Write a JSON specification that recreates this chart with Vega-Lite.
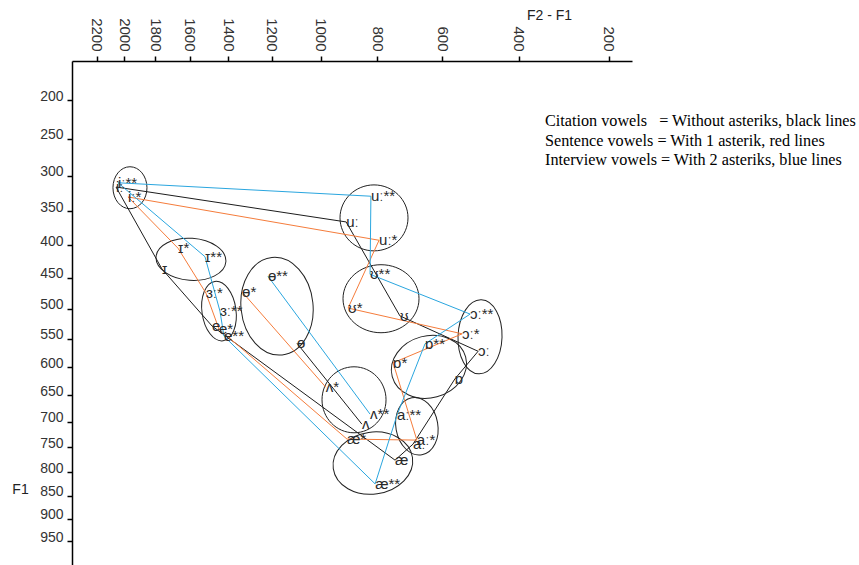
{
  "$schema": "https://vega.github.io/schema/vega-lite/v6.json",
  "width": 560,
  "height": 504,
  "autosize": "none",
  "padding": {"left": 72, "top": 61, "right": 227, "bottom": 0},
  "background": "white",
  "config": {"view": {"stroke": null}, "font": "Liberation Sans"},
  "title": {
    "text": [
      "Citation vowels\u00a0\u00a0 = Without asteriks, black lines",
      "Sentence vowels = With 1 asterik, red lines",
      "Interview vowels = With 2 asteriks, blue lines"
    ],
    "orient": "bottom",
    "anchor": "start",
    "frame": "group",
    "offset": 0,
    "dx": 473,
    "dy": -452,
    "baseline": "top",
    "font": "Liberation Serif",
    "fontSize": 16.2,
    "fontWeight": "normal",
    "color": "#000000",
    "lineHeight": 19.5
  },
  "datasets": {
    "vowels": [
      {"vowel": "iː", "cond": "citation", "f2": 2060, "f1": 316},
      {"vowel": "ɪ", "cond": "citation", "f2": 1761, "f1": 437},
      {"vowel": "e", "cond": "citation", "f2": 1484, "f1": 529},
      {"vowel": "æ", "cond": "citation", "f2": 745, "f1": 776},
      {"vowel": "aː", "cond": "citation", "f2": 690, "f1": 744},
      {"vowel": "ɒ", "cond": "citation", "f2": 567, "f1": 621},
      {"vowel": "ɔː", "cond": "citation", "f2": 506, "f1": 572},
      {"vowel": "ʊ", "cond": "citation", "f2": 730, "f1": 512},
      {"vowel": "uː", "cond": "citation", "f2": 910, "f1": 366},
      {"vowel": "ɵ", "cond": "citation", "f2": 1097, "f1": 558},
      {"vowel": "ʌ", "cond": "citation", "f2": 854, "f1": 705},
      {"vowel": "iː*", "cond": "sentence", "f2": 1977, "f1": 330},
      {"vowel": "ɪ*", "cond": "sentence", "f2": 1668, "f1": 405},
      {"vowel": "ɜː*", "cond": "sentence", "f2": 1516, "f1": 475},
      {"vowel": "e*", "cond": "sentence", "f2": 1448, "f1": 534},
      {"vowel": "æ*", "cond": "sentence", "f2": 907, "f1": 734},
      {"vowel": "aː*", "cond": "sentence", "f2": 678, "f1": 736},
      {"vowel": "ɒ*", "cond": "sentence", "f2": 751, "f1": 592},
      {"vowel": "ɔː*", "cond": "sentence", "f2": 548, "f1": 542},
      {"vowel": "ʊ*", "cond": "sentence", "f2": 903, "f1": 499},
      {"vowel": "uː*", "cond": "sentence", "f2": 794, "f1": 393},
      {"vowel": "ɵ*", "cond": "sentence", "f2": 1336, "f1": 473},
      {"vowel": "ʌ*", "cond": "sentence", "f2": 982, "f1": 636},
      {"vowel": "iː**", "cond": "interview", "f2": 2046, "f1": 310},
      {"vowel": "ɪ**", "cond": "interview", "f2": 1521, "f1": 418},
      {"vowel": "ɜː**", "cond": "interview", "f2": 1443, "f1": 504},
      {"vowel": "e**", "cond": "interview", "f2": 1422, "f1": 546},
      {"vowel": "æ**", "cond": "interview", "f2": 807, "f1": 825},
      {"vowel": "aː**", "cond": "interview", "f2": 739, "f1": 688},
      {"vowel": "ɒ**", "cond": "interview", "f2": 653, "f1": 559},
      {"vowel": "ɔː**", "cond": "interview", "f2": 527, "f1": 509},
      {"vowel": "ʊ**", "cond": "interview", "f2": 825, "f1": 445},
      {"vowel": "uː**", "cond": "interview", "f2": 822, "f1": 329},
      {"vowel": "ɵ**", "cond": "interview", "f2": 1217, "f1": 448},
      {"vowel": "ʌ**", "cond": "interview", "f2": 825, "f1": 686}
    ],
    "paths": [
      {"path": "c1", "cond": "citation", "step": 0, "vowel": "uː"},
      {"path": "c1", "cond": "citation", "step": 1, "vowel": "iː"},
      {"path": "c1", "cond": "citation", "step": 2, "vowel": "ɪ"},
      {"path": "c1", "cond": "citation", "step": 3, "vowel": "e"},
      {"path": "c1", "cond": "citation", "step": 4, "vowel": "æ"},
      {"path": "c1", "cond": "citation", "step": 5, "vowel": "aː"},
      {"path": "c1", "cond": "citation", "step": 6, "vowel": "ɒ"},
      {"path": "c1", "cond": "citation", "step": 7, "vowel": "ɔː"},
      {"path": "c1", "cond": "citation", "step": 8, "vowel": "ʊ"},
      {"path": "c1", "cond": "citation", "step": 9, "vowel": "uː"},
      {"path": "c2", "cond": "citation", "step": 0, "vowel": "ɵ"},
      {"path": "c2", "cond": "citation", "step": 1, "vowel": "ʌ"},
      {"path": "s1", "cond": "sentence", "step": 0, "vowel": "uː*"},
      {"path": "s1", "cond": "sentence", "step": 1, "vowel": "iː*"},
      {"path": "s1", "cond": "sentence", "step": 2, "vowel": "ɪ*"},
      {"path": "s1", "cond": "sentence", "step": 3, "vowel": "ɜː*"},
      {"path": "s1", "cond": "sentence", "step": 4, "vowel": "e*"},
      {"path": "s1", "cond": "sentence", "step": 5, "vowel": "æ*"},
      {"path": "s1", "cond": "sentence", "step": 6, "vowel": "aː*"},
      {"path": "s1", "cond": "sentence", "step": 7, "vowel": "ɒ*"},
      {"path": "s1", "cond": "sentence", "step": 8, "vowel": "ɔː*"},
      {"path": "s1", "cond": "sentence", "step": 9, "vowel": "ʊ*"},
      {"path": "s1", "cond": "sentence", "step": 10, "vowel": "uː*"},
      {"path": "s2", "cond": "sentence", "step": 0, "vowel": "ɵ*"},
      {"path": "s2", "cond": "sentence", "step": 1, "vowel": "ʌ*"},
      {"path": "b1", "cond": "interview", "step": 0, "vowel": "uː**"},
      {"path": "b1", "cond": "interview", "step": 1, "vowel": "iː**"},
      {"path": "b1", "cond": "interview", "step": 2, "vowel": "ɪ**"},
      {"path": "b1", "cond": "interview", "step": 3, "vowel": "ɜː**"},
      {"path": "b1", "cond": "interview", "step": 4, "vowel": "e**"},
      {"path": "b1", "cond": "interview", "step": 5, "vowel": "æ**"},
      {"path": "b1", "cond": "interview", "step": 6, "vowel": "aː**"},
      {"path": "b1", "cond": "interview", "step": 7, "vowel": "ɒ**"},
      {"path": "b1", "cond": "interview", "step": 8, "vowel": "ɔː**"},
      {"path": "b1", "cond": "interview", "step": 9, "vowel": "ʊ**"},
      {"path": "b1", "cond": "interview", "step": 10, "vowel": "uː**"},
      {"path": "b2", "cond": "interview", "step": 0, "vowel": "ɵ**"},
      {"path": "b2", "cond": "interview", "step": 1, "vowel": "ʌ**"}
    ],
    "ellipses": [
      {"group": "iː", "f2": 1964, "f1": 317},
      {"group": "ɪ", "f2": 1594, "f1": 422},
      {"group": "ɜː", "f2": 1448, "f1": 504},
      {"group": "ɵ", "f2": 1178, "f1": 496},
      {"group": "uː", "f2": 811, "f1": 360},
      {"group": "ʊ", "f2": 788, "f1": 484},
      {"group": "ɔː", "f2": 501, "f1": 547},
      {"group": "ɒ", "f2": 641, "f1": 599},
      {"group": "ʌ", "f2": 882, "f1": 659},
      {"group": "aː", "f2": 678, "f1": 709},
      {"group": "æ", "f2": 815, "f1": 782}
    ]
  },
  "encoding": {
    "x": {
      "field": "f2",
      "type": "quantitative",
      "scale": {
        "type": "linear",
        "domain": [154, 200, 400, 600, 800, 1000, 1200, 1400, 1600, 1800, 2000, 2200, 2392],
        "range": [560, 536.8, 446.5, 370.3, 305.1, 248.8, 199.6, 156.2, 117.8, 83.3, 52.4, 24.5, 0],
        "nice": false,
        "zero": false
      },
      "axis": {
        "orient": "top",
        "values": [2200, 2000, 1800, 1600, 1400, 1200, 1000, 800, 600, 400, 200],
        "format": "d",
        "title": "F2 - F1",
        "titleX": 477,
        "titleY": -46,
        "titleAngle": 0,
        "titleAlign": "center",
        "titleBaseline": "middle",
        "titleFont": "Liberation Sans",
        "titleFontSize": 14,
        "titleFontWeight": "normal",
        "titleColor": "#222222",
        "labelAngle": 90,
        "labelAlign": "right",
        "labelBaseline": "middle",
        "labelFont": "Liberation Sans",
        "labelFontSize": 15,
        "labelColor": "#333333",
        "labelPadding": 5,
        "labelFlush": false,
        "labelOverlap": false,
        "grid": false,
        "domainColor": "#000000",
        "domainWidth": 1.5,
        "tickColor": "#000000",
        "tickWidth": 1.5,
        "tickSize": 5
      }
    },
    "y": {
      "field": "f1",
      "type": "quantitative",
      "scale": {
        "type": "linear",
        "domain": [152, 200, 250, 300, 350, 400, 450, 500, 550, 600, 650, 700, 750, 800, 850, 900, 950, 1006],
        "range": [0, 39, 77.8, 114.7, 150.1, 184, 216.5, 247.7, 277.6, 306.4, 334, 360.6, 386.3, 411, 434.8, 457.8, 480, 504],
        "nice": false,
        "zero": false
      },
      "axis": {
        "orient": "left",
        "values": [200, 250, 300, 350, 400, 450, 500, 550, 600, 650, 700, 750, 800, 850, 900, 950],
        "format": "d",
        "title": "F1",
        "titleX": -52,
        "titleY": 428,
        "titleAngle": 0,
        "titleAlign": "center",
        "titleBaseline": "middle",
        "titleFont": "Liberation Sans",
        "titleFontSize": 14,
        "titleFontWeight": "normal",
        "titleColor": "#222222",
        "labelAlign": "right",
        "labelBaseline": "alphabetic",
        "labelFont": "Liberation Sans",
        "labelFontSize": 14,
        "labelColor": "#333333",
        "labelPadding": 4,
        "labelFlush": false,
        "labelOverlap": false,
        "grid": false,
        "domainColor": "#000000",
        "domainWidth": 1.5,
        "tickColor": "#000000",
        "tickWidth": 1.5,
        "tickSize": 5
      }
    }
  },
  "layer": [
    {
      "data": {"name": "ellipses"},
      "transform": [{"filter": "datum.group === 'iː'"}],
      "mark": {"type": "point", "shape": "M-1,0A1,0.81,0,1,1,1,0A1,0.81,0,1,1,-1,0Z", "size": 1764, "angle": 90, "filled": false, "stroke": "#222222", "strokeWidth": 1, "opacity": 1}
    },
    {
      "data": {"name": "ellipses"},
      "transform": [{"filter": "datum.group === 'ɪ'"}],
      "mark": {"type": "point", "shape": "M-1,0A1,0.6,0,1,1,1,0A1,0.6,0,1,1,-1,0Z", "size": 4900, "angle": 4, "filled": false, "stroke": "#222222", "strokeWidth": 1, "opacity": 1}
    },
    {
      "data": {"name": "ellipses"},
      "transform": [{"filter": "datum.group === 'ɜː'"}],
      "mark": {"type": "point", "shape": "M-1,0A1,0.567,0,1,1,1,0A1,0.567,0,1,1,-1,0Z", "size": 3600, "angle": 82, "filled": false, "stroke": "#222222", "strokeWidth": 1, "opacity": 1}
    },
    {
      "data": {"name": "ellipses"},
      "transform": [{"filter": "datum.group === 'ɵ'"}],
      "mark": {"type": "point", "shape": "M-1,0A1,0.735,0,1,1,1,0A1,0.735,0,1,1,-1,0Z", "size": 9604, "angle": 84, "filled": false, "stroke": "#222222", "strokeWidth": 1, "opacity": 1}
    },
    {
      "data": {"name": "ellipses"},
      "transform": [{"filter": "datum.group === 'uː'"}],
      "mark": {"type": "point", "shape": "M-1,0A1,0.97,0,1,1,1,0A1,0.97,0,1,1,-1,0Z", "size": 4624, "angle": 0, "filled": false, "stroke": "#222222", "strokeWidth": 1, "opacity": 1}
    },
    {
      "data": {"name": "ellipses"},
      "transform": [{"filter": "datum.group === 'ʊ'"}],
      "mark": {"type": "point", "shape": "M-1,0A1,0.895,0,1,1,1,0A1,0.895,0,1,1,-1,0Z", "size": 5776, "angle": 0, "filled": false, "stroke": "#222222", "strokeWidth": 1, "opacity": 1}
    },
    {
      "data": {"name": "ellipses"},
      "transform": [{"filter": "datum.group === 'ɔː'"}],
      "mark": {"type": "point", "shape": "M-1,0A1,0.595,0,1,1,1,0A1,0.595,0,1,1,-1,0Z", "size": 5476, "angle": 92, "filled": false, "stroke": "#222222", "strokeWidth": 1, "opacity": 1}
    },
    {
      "data": {"name": "ellipses"},
      "transform": [{"filter": "datum.group === 'ɒ'"}],
      "mark": {"type": "point", "shape": "M-1,0A1,0.816,0,1,1,1,0A1,0.816,0,1,1,-1,0Z", "size": 5776, "angle": -15, "filled": false, "stroke": "#222222", "strokeWidth": 1, "opacity": 1}
    },
    {
      "data": {"name": "ellipses"},
      "transform": [{"filter": "datum.group === 'ʌ'"}],
      "mark": {"type": "point", "shape": "M-1,0A1,0.97,0,1,1,1,0A1,0.97,0,1,1,-1,0Z", "size": 4356, "angle": 90, "filled": false, "stroke": "#222222", "strokeWidth": 1, "opacity": 1}
    },
    {
      "data": {"name": "ellipses"},
      "transform": [{"filter": "datum.group === 'aː'"}],
      "mark": {"type": "point", "shape": "M-1,0A1,0.724,0,1,1,1,0A1,0.724,0,1,1,-1,0Z", "size": 3364, "angle": 80, "filled": false, "stroke": "#222222", "strokeWidth": 1, "opacity": 1}
    },
    {
      "data": {"name": "ellipses"},
      "transform": [{"filter": "datum.group === 'æ'"}],
      "mark": {"type": "point", "shape": "M-1,0A1,0.775,0,1,1,1,0A1,0.775,0,1,1,-1,0Z", "size": 6400, "angle": -8, "filled": false, "stroke": "#222222", "strokeWidth": 1, "opacity": 1}
    },
    {
      "data": {"name": "paths"},
      "transform": [
        {"lookup": "vowel", "from": {"data": {"name": "vowels"}, "key": "vowel", "fields": ["f2", "f1"]}}
      ],
      "mark": {"type": "line", "strokeWidth": 1, "interpolate": "linear"},
      "encoding": {
        "detail": {"field": "path", "type": "nominal"},
        "order": {"field": "step", "type": "quantitative"},
        "color": {
          "field": "cond",
          "type": "nominal",
          "scale": {"domain": ["citation", "sentence", "interview"], "range": ["#1c1c1c", "#f57c3b", "#2aa6df"]},
          "legend": null
        }
      }
    },
    {
      "data": {"name": "vowels"},
      "mark": {"type": "text", "align": "left", "baseline": "middle", "font": "Liberation Sans", "fontSize": 15, "color": "#2a2a2a"},
      "encoding": {
        "text": {"field": "vowel", "type": "nominal"}
      }
    }
  ]
}
